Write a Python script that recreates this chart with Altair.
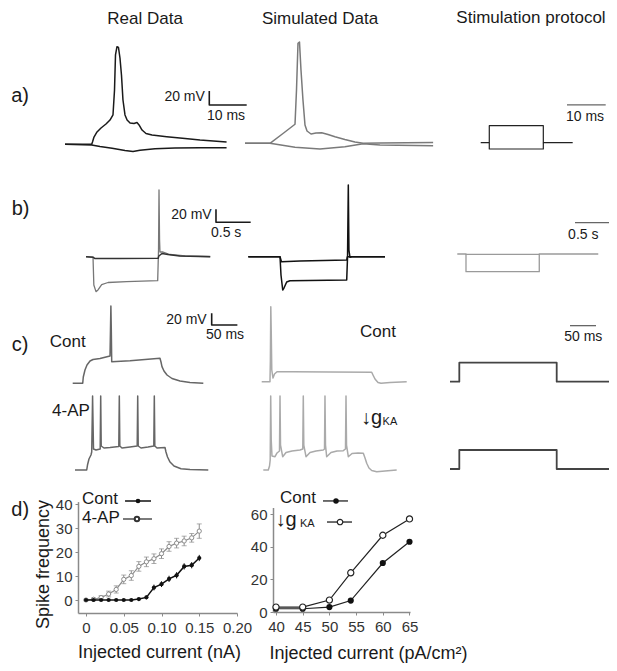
import altair as alt
import pandas as pd

FONT = "Liberation Sans"
M = 8  # page margin

# ---------------- traces (time, voltage) ----------------
# a) single spike, real data (ms, mV)
A_REAL_SPIKE = [(0, -65), (7.14, -65), (7.35, -61.7), (7.75, -54.6), (8.56, -47.4), (9.63, -41.7),
                (10.96, -36), (12.03, -30.3), (12.83, -23.1), (13.24, 12.6), (13.5, 62.6), (13.9, 74.4),
                (14.3, 73.3), (14.7, 58.3), (15.1, 34), (15.5, -1.7), (16.04, -23.1), (16.6, -30.3),
                (17.4, -34.6), (18.45, -35.3), (19.25, -33.9), (19.8, -37.4), (20.6, -44.6), (21.66, -49.6),
                (23.26, -51.7), (27.2, -54.1), (32.1, -56.7), (36.1, -58.9), (43.2, -61.7)]
A_REAL_HYP = [(0, -65), (7.14, -66), (9.36, -68.1), (12.6, -70.7), (16.04, -73.9), (18.18, -75.3),
              (20.05, -73.6), (24.06, -71.4), (29.4, -70.3), (36.1, -69.9), (43.2, -69.9)]
A_SIM_SPIKE = [(0, -63.6), (6.68, -63.6), (10.16, -49.6), (13.37, -36.4), (13.77, 12.6), (14.17, 79.3),
               (14.57, 81.1), (14.97, 41.1), (15.5, -1.7), (16.04, -37.4), (16.58, -46), (17.65, -50.3),
               (18.98, -48.9), (20.5, -48.4), (22.2, -51), (24.06, -54.1), (26.7, -58.1), (29.4, -61.7),
               (31.6, -63.6), (36.1, -63.1), (50.3, -62.4)]
A_SIM_HYP = [(0, -63.6), (6.68, -63.6), (13.37, -69.3), (20.05, -71.7), (26.7, -68.4), (31.6, -64.3),
             (36.1, -66), (50.3, -67)]
A_STIM_POS = [(0, 0), (2.22, 0), (2.22, 0.1), (16.18, 0.1), (16.18, 0), (23.77, 0)]
A_STIM_NEG = [(2.22, 0), (2.22, -0.037), (16.18, -0.037), (16.18, 0)]

# b) hyperpolarising steps (s, mV)
B_REAL_SMALL = [(0, -65), (0.105, -65.9), (0.13, -67.8), (0.49, -67.8), (1.04, -67.5), (1.05, -63.9),
                (1.095, -60.1), (1.18, -61.6), (1.35, -63.9), (1.79, -65)]
B_REAL_BIG = [(0, -65), (0.101, -65.5), (0.113, -108.5), (0.144, -118.8), (0.173, -116.2), (0.226, -107.8),
              (0.317, -104.7), (0.586, -103.5), (1.033, -101.9), (1.045, -54.7), (1.052, 37.6),
              (1.06, -39.3), (1.066, -57.8), (1.11, -57.8), (1.21, -61.6), (1.43, -63.9), (1.79, -64.7)]
B_SIM_SMALL = [(0, -65), (0.457, -65), (0.478, -72.7), (0.745, -71.6), (1.418, -70.1), (1.427, -65), (1.97, -65)]
B_SIM_BIG = [(0, -65), (0.457, -65), (0.471, -93.2), (0.496, -116.2), (0.514, -113.2), (0.553, -103.9),
             (0.6, -101.9), (1.418, -100.8), (1.43, -65.5), (1.441, 45.3), (1.45, -54.7), (1.465, -65.9),
             (1.494, -65), (1.97, -65)]
B_STIM_BIG = [(0, 0), (0.126, 0), (0.126, -0.1), (1.188, -0.1), (1.188, 0), (2.043, 0)]
B_STIM_SMALL = [(0.126, 0), (0.126, -0.002), (1.188, -0.002), (1.188, 0)]

# c) step current, control and 4-AP / reduced gKA (ms, mV)
C_REAL_CONT = [(0, -65), (19.5, -65), (20.6, -54.2), (23.9, -42.3), (27.8, -33.7), (33.7, -26.9),
               (39.5, -24.3), (53.1, -22.6), (72.6, -18.3), (73.5, 26.1), (74.3, 67.1), (75.1, 26.1),
               (75.9, -28.1), (111.5, -26.4), (169.8, -22.3), (171.8, -28.6), (173.7, -36.6), (177.6, -44),
               (183.5, -50.8), (193.2, -56.8), (208.8, -61.1), (228.2, -63.6), (254.1, -65)]
C_REAL_4AP = [(0, -65), (22.8, -65), (24.3, -56.5), (27.2, -46.2), (31.1, -39.4), (32.5, -34.2),
              (33.5, 20.5), (34.2, 61.5), (35, 20.5), (36, -29.1), (40.9, -30.8), (49, -29.1), (50, 61.5),
              (51, -24), (56.4, -27.4), (68.1, -26.5), (85.2, -24.8), (86.2, 61.5), (87.2, -24),
              (91.4, -27.4), (107, -25.7), (121, -24), (122, 61.5), (123, -24), (128.4, -27.4),
              (142, -25.7), (153.3, -24), (154.3, 61.5), (155.3, -24), (159.6, -27.4), (175.1, -26.5),
              (177, -34.2), (180, -42.8), (184.9, -51.4), (192.6, -58.2), (206.2, -62.8), (223.7, -64.3),
              (259.3, -65)]
C_SIM_CONT = [(0, -65), (16.1, -65), (16.9, -27.9), (17.7, 63.2), (18.5, 23.4), (19.6, -45), (22, -58.7),
              (24.9, -51.8), (29.8, -47.9), (61.5, -47.9), (132.9, -48.4), (214, -48.9), (216.5, -53.5),
              (220.4, -60.4), (226.3, -66.4), (232.1, -67.7), (249.6, -66.4), (282.1, -65)]
C_SIM_KA = [(0, -65), (9.7, -65), (12.1, -58.2), (13.4, -47.9), (14.4, 61.5), (15.4, -13.7), (16.9, -41.1),
            (22.8, -42.3), (26.7, -35.9), (31.5, -32.5), (32.5, 61.5), (33.5, -22.3), (37.7, -42.3),
            (44.2, -35.1), (55.8, -32.5), (71.4, -30.8), (76.8, -29.1), (77.8, 61.5), (78.8, -22.3),
            (83.1, -42.3), (90.9, -35.1), (102.5, -32.5), (116.7, -30.8), (119.1, -29.1), (120, 61.5),
            (121, -22.3), (123.3, -42.3), (131.7, -35.1), (143.4, -32.5), (155.6, -32), (159.9, -29.1),
            (160.9, 61.5), (161.9, -22.3), (165.4, -42.3), (172.6, -36.8), (184.2, -35.9), (194.6, -36.4),
            (197.9, -44.5), (201.2, -53.5), (205.6, -61.6), (210.9, -65.9), (220.6, -67.9), (236.8, -66.7),
            (259.5, -65)]
C_STIM = [(0, 0), (17.9, 0), (17.9, 0.1), (205.2, 0.1), (205.2, 0), (306.3, 0)]

# d) frequency-current curves
D_REAL_I = [0, 0.01, 0.02, 0.03, 0.04, 0.05, 0.06, 0.07, 0.08, 0.09, 0.10, 0.11, 0.12, 0.13, 0.14, 0.15]
D_REAL_CONT = [0, 0, 0, 0, 0, 0, 0, 0.4, 1.1, 5.2, 6.6, 8.8, 10.3, 14.0, 14.5, 17.5]
D_REAL_CONT_ERR = [0.3, 0.3, 0.3, 0.3, 0.3, 0.3, 0.3, 0.5, 0.8, 1.2, 1.2, 1.3, 1.3, 1.3, 1.3, 1.3]
D_REAL_4AP = [0, 0.3, 1.0, 2.5, 4.4, 8.6, 10.2, 14.0, 15.9, 17.2, 19.3, 22.3, 23.7, 24.6, 25.9, 28.7]
D_REAL_4AP_ERR = [0.3, 0.5, 0.8, 1.2, 1.5, 1.8, 2.0, 2.0, 2.0, 2.0, 2.0, 2.0, 2.0, 2.0, 1.8, 3.0]
D_SIM_I = [40, 45, 50, 54, 60, 65]
D_SIM_CONT = [2, 2, 3, 7, 30, 43]
D_SIM_KA = [3, 3, 7.3, 24, 47, 57]

# ---------------- panel layout (pixel origin and pixels per unit) ----------------
PANELS = {
    "a_real": dict(x0=65, kx=3.74, y0=144.3, vref=-65, ky=0.7, xd=(-15, 50), yd=(-80, 130)),
    "a_sim": dict(x0=245, kx=3.74, y0=144.3, vref=-65, ky=0.7, xd=(-5, 55), yd=(-80, 130)),
    "a_stim": dict(x0=480.7, kx=3.87, y0=142.7, vref=0, ky=170, xd=(-2, 35), yd=(-0.06, 0.8)),
    "b_real": dict(x0=86, kx=69.4, y0=256.7, vref=-65, ky=0.65, xd=(-1.2, 2.6), yd=(-125, 50)),
    "b_sim": dict(x0=248.3, kx=69.4, y0=256.7, vref=-65, ky=0.65, xd=(-0.1, 2.1), yd=(-125, 50)),
    "b_stim": dict(x0=457.3, kx=69, y0=254, vref=0, ky=177, xd=(-0.1, 2.3), yd=(-0.12, 0.2)),
    "cc_real": dict(x0=72.7, kx=0.514, y0=383.3, vref=-65, ky=0.585, xd=(-125, 330), yd=(-70, 70)),
    "ca_real": dict(x0=75, kx=0.514, y0=470, vref=-65, ky=0.585, xd=(-50, 270), yd=(-70, 70)),
    "cc_sim": dict(x0=261.7, kx=0.514, y0=381.7, vref=-65, ky=0.585, xd=(-5, 290), yd=(-70, 70)),
    "ca_sim": dict(x0=263.3, kx=0.514, y0=470, vref=-65, ky=0.585, xd=(-5, 290), yd=(-70, 70)),
    "cc_stim": dict(x0=450, kx=0.52, y0=381.7, vref=0, ky=190, xd=(0, 310), yd=(-0.05, 0.35)),
    "ca_stim": dict(x0=450, kx=0.52, y0=469, vref=0, ky=190, xd=(0, 310), yd=(-0.05, 0.35)),
    "d_left": dict(x0=86, kx=755, y0=600, vref=0, ky=2.4, xd=(-0.0106, 0.2), yd=(-5.42, 41)),
    "d_right": dict(x0=62.4, kx=5.34, y0=612, vref=0, ky=1.633, xd=(39.44, 65.1), yd=(0, 64)),
}


def xscale(p):
    P = PANELS[p]
    lo, hi = P["xd"]
    return alt.Scale(domain=[lo, hi], range=[P["x0"] + lo * P["kx"] - M, P["x0"] + hi * P["kx"] - M],
                     nice=False, zero=False)


def yscale(p):
    P = PANELS[p]
    lo, hi = P["yd"]
    f = lambda v: P["y0"] - (v - P["vref"]) * P["ky"] - M
    return alt.Scale(domain=[lo, hi], range=[f(lo), f(hi)], nice=False, zero=False)


def X(p, field="t", axis=None):
    return alt.X(f"{field}:Q", scale=xscale(p), axis=axis)


def Y(p, field="v", axis=None):
    return alt.Y(f"{field}:Q", scale=yscale(p), axis=axis)


def trace(p, pts, color, w=1.5):
    df = pd.DataFrame(pts, columns=["t", "v"])
    df["i"] = range(len(df))
    return alt.Chart(df).mark_line(color=color, strokeWidth=w, strokeJoin="round").encode(
        x=X(p), y=Y(p), order="i:Q")


def label(p, t, v, s, size, align="left", color="#1a1a1a", weight="normal"):
    df = pd.DataFrame({"t": [t], "v": [v], "s": [s]})
    return alt.Chart(df).mark_text(align=align, baseline="middle", fontSize=size, font=FONT,
                                   fontWeight=weight, color=color).encode(x=X(p), y=Y(p), text="s:N")


def scalebar(p, t0, v0, dt, dv, color="#1a1a1a", w=1.6):
    pts = [(t0, v0 + dv), (t0, v0), (t0 + dt, v0)] if dv else [(t0, v0), (t0 + dt, v0)]
    return trace(p, pts, color, w)


layers = []

# headers and row labels
layers += [
    label("a_real", 21.4, 114.0, "Real Data", 17, "center"),
    label("a_sim", 20.05, 114.0, "Simulated Data", 17, "center"),
    label("a_stim", 13.0, 0.733, "Stimulation protocol", 17, "center"),
    label("a_real", -14.4, 4.0, "a)", 20),
    label("b_real", -1.07, 8.4, "b)", 20),
    label("cc_real", -118.5, 0.5, "c)", 20),
    label("d_left", -0.099, 37.5, "d)", 20),
]

# row a
layers += [
    trace("a_real", A_REAL_HYP, "#1a1a1a"), trace("a_real", A_REAL_SPIKE, "#1a1a1a"),
    scalebar("a_real", 38.58, -8.9, 10, 20),
    label("a_real", 37.4, 3.0, "20 mV", 14, "right"),
    label("a_real", 43.05, -24.6, "10 ms", 14, "center"),
    trace("a_sim", A_SIM_HYP, "#7a7a7a"), trace("a_sim", A_SIM_SPIKE, "#7a7a7a"),
    trace("a_stim", A_STIM_POS, "#222", 1.2), trace("a_stim", A_STIM_NEG, "#222", 1.2),
    scalebar("a_stim", 22.3, 0.222, 10, 0, "#666", 1.3),
    label("a_stim", 26.95, 0.153, "10 ms", 14, "center"),
]

# row b
layers += [
    trace("b_real", B_REAL_BIG, "#777", 1.3), trace("b_real", B_REAL_SMALL, "#333"),
    scalebar("b_real", 1.873, -12.1, 0.5, 20),
    label("b_real", 1.811, -0.8, "20 mV", 14, "right"),
    label("b_real", 2.02, -29, "0.5 s", 14, "center"),
    trace("b_sim", B_SIM_SMALL, "#111"), trace("b_sim", B_SIM_BIG, "#111"),
    trace("b_stim", B_STIM_SMALL, "#9a9a9a", 1.3), trace("b_stim", B_STIM_BIG, "#9a9a9a", 1.3),
    scalebar("b_stim", 1.706, 0.177, 0.5, 0, "#666", 1.3),
    label("b_stim", 1.826, 0.107, "0.5 s", 14, "center"),
]

# row c
layers += [
    trace("cc_real", C_REAL_CONT, "#666"),
    scalebar("cc_real", 270.4, 34.7, 50, 20),
    label("cc_real", 260.7, 43.2, "20 mV", 14, "right"),
    label("cc_real", 296.3, 17.6, "50 ms", 14, "center"),
    label("cc_real", -44.6, 6.1, "Cont", 17),
    trace("ca_real", C_REAL_4AP, "#666"),
    label("ca_real", -44.7, 35.9, "4-AP", 17),
    trace("cc_sim", C_SIM_CONT, "#aaa"),
    label("cc_sim", 191.2, 19.4, "Cont", 17),
    trace("ca_sim", C_SIM_KA, "#aaa"),
    label("ca_sim", 190.0, 23.9, "↓g", 20),
    label("ca_sim", 232.0, 17.0, "KA", 11),
    trace("cc_stim", C_STIM, "#444", 1.8),
    trace("ca_stim", C_STIM, "#444", 1.8),
    scalebar("cc_stim", 230.8, 0.295, 50, 0, "#666", 1.3),
    label("cc_stim", 256.3, 0.237, "50 ms", 14, "center"),
]

# row d, left: real data with error bars
dl = pd.DataFrame({"x": D_REAL_I, "cont": D_REAL_CONT, "ce": D_REAL_CONT_ERR,
                   "ap": D_REAL_4AP, "ae": D_REAL_4AP_ERR})
dl["clo"] = dl.cont - dl.ce
dl["chi"] = dl.cont + dl.ce
dl["alo"] = dl.ap - dl.ae
dl["ahi"] = dl.ap + dl.ae

AX = dict(labelFont=FONT, labelFontSize=15, labelColor="#333", domainColor="#8a8a8a", domainWidth=1.5,
          tickColor="#8a8a8a", tickSize=3, grid=False, labelFlush=False, labelOverlap=False,
          titleFont=FONT, titleFontSize=18, titleFontWeight="normal", titleColor="#1a1a1a")

GRAY = "#8c8c8c"
base_l = alt.Chart(dl)
xl_axis = alt.Axis(orient="bottom", offset=613 - M - 655, values=[0, 0.05, 0.1, 0.15, 0.2],
                   labelExpr="datum.value == 0 ? '0' : format(datum.value, '.2f')", labelPadding=4,
                   title="Injected current (nA)", titleX=159 - M, titleY=39, titleBaseline="middle",
                   titleAlign="center", **AX)
yl_axis = alt.Axis(orient="left", offset=-(78 - M), values=[0, 10, 20, 30, 40], labelPadding=3,
                   title="Spike frequency", titleX=-35, titleY=564 - M, titleAngle=270,
                   titleBaseline="middle", titleAlign="center", **AX)
layers += [
    base_l.mark_line(color=GRAY, strokeWidth=1.2).encode(x=X("d_left", "x", xl_axis), y=Y("d_left", "ap", yl_axis)),
    base_l.mark_rule(color=GRAY, strokeWidth=1).encode(x=X("d_left", "x"), y=Y("d_left", "alo"), y2="ahi:Q"),
    base_l.mark_tick(color=GRAY, orient="horizontal", size=5, thickness=1).encode(x=X("d_left", "x"), y=Y("d_left", "alo")),
    base_l.mark_tick(color=GRAY, orient="horizontal", size=5, thickness=1).encode(x=X("d_left", "x"), y=Y("d_left", "ahi")),
    base_l.mark_point(shape="circle", filled=True, fill="white", stroke=GRAY, strokeWidth=1, size=18, opacity=1).encode(
        x=X("d_left", "x"), y=Y("d_left", "ap")),
    base_l.mark_line(color="#111", strokeWidth=1.5).encode(x=X("d_left", "x"), y=Y("d_left", "cont")),
    base_l.mark_rule(color="#111", strokeWidth=1).encode(x=X("d_left", "x"), y=Y("d_left", "clo"), y2="chi:Q"),
    base_l.mark_point(shape="circle", filled=True, color="#111", size=18, opacity=1).encode(
        x=X("d_left", "x"), y=Y("d_left", "cont")),
]
# legend, left
leg_l = pd.DataFrame({"x": [0.0517, 0.0861], "y": [41.25, 41.25]})
leg_l2 = pd.DataFrame({"x": [0.049, 0.0874], "y": [33.75, 33.75]})
layers += [
    label("d_left", -0.0053, 41.9, "Cont", 17),
    label("d_left", -0.0053, 34.0, "4-AP", 17),
    alt.Chart(leg_l).mark_line(color="#111", strokeWidth=1.5).encode(x=X("d_left", "x"), y=Y("d_left", "y")),
    alt.Chart(pd.DataFrame({"x": [0.0689], "y": [41.25]})).mark_point(shape="circle", filled=True, color="#111", size=22, opacity=1).encode(
        x=X("d_left", "x"), y=Y("d_left", "y")),
    alt.Chart(leg_l2).mark_line(color="#333", strokeWidth=1.3).encode(x=X("d_left", "x"), y=Y("d_left", "y")),
    alt.Chart(pd.DataFrame({"x": [0.0675], "y": [33.75]})).mark_point(shape="circle", filled=True, fill="white", stroke="#333", size=20, opacity=1).encode(
        x=X("d_left", "x"), y=Y("d_left", "y")),
]

# row d, right: simulated
dr = pd.DataFrame({"x": D_SIM_I, "cont": D_SIM_CONT, "ka": D_SIM_KA})
base_r = alt.Chart(dr)
xr_axis = alt.Axis(orient="bottom", offset=612 - M - 655, values=[40, 45, 50, 55, 60, 65], format="d",
                   labelPadding=4, title="Injected current (pA/cm²)", titleX=269 - M, titleY=41,
                   titleBaseline="middle", titleAlign="left", **AX)
yr_axis = alt.Axis(orient="left", offset=-(273 - M), values=[0, 20, 40, 60], labelPadding=3, title=None, **AX)
layers += [
    base_r.mark_line(color="#222", strokeWidth=1.2).encode(x=X("d_right", "x", xr_axis), y=Y("d_right", "ka", yr_axis)),
    base_r.mark_line(color="#222", strokeWidth=1.2).encode(x=X("d_right", "x"), y=Y("d_right", "cont")),
    base_r.mark_point(shape="circle", filled=True, color="#111", size=38, opacity=1).encode(
        x=X("d_right", "x"), y=Y("d_right", "cont")),
    base_r.mark_point(shape="circle", filled=True, fill="white", stroke="#222", strokeWidth=1.2, size=38, opacity=1).encode(
        x=X("d_right", "x"), y=Y("d_right", "ka")),
    label("d_right", 40.75, 69.8, "Cont", 17),
    label("d_right", 39.9, 56.3, "↓g", 20),
    label("d_right", 44.5, 53.6, "KA", 11),
    alt.Chart(pd.DataFrame({"x": [48.8, 53.48], "y": [68, 68]})).mark_line(color="#222", strokeWidth=1.3).encode(
        x=X("d_right", "x"), y=Y("d_right", "y")),
    alt.Chart(pd.DataFrame({"x": [51.24], "y": [68]})).mark_point(shape="circle", filled=True, color="#111", size=30, opacity=1).encode(
        x=X("d_right", "x"), y=Y("d_right", "y")),
    alt.Chart(pd.DataFrame({"x": [49.55, 54.23], "y": [55.1, 55.1]})).mark_line(color="#222", strokeWidth=1.3).encode(
        x=X("d_right", "x"), y=Y("d_right", "y")),
    alt.Chart(pd.DataFrame({"x": [51.99], "y": [55.1]})).mark_point(shape="circle", filled=True, fill="white", stroke="#222", strokeWidth=1.2, size=30, opacity=1).encode(
        x=X("d_right", "x"), y=Y("d_right", "y")),
]

chart = alt.layer(*layers).resolve_scale(x="independent", y="independent").properties(
    width=601, height=655, autosize=alt.AutoSizeParams(type="none"), padding=0
).configure_view(stroke=None)

chart.save("out.html", embed_options={"renderer": "svg", "actions": False})
